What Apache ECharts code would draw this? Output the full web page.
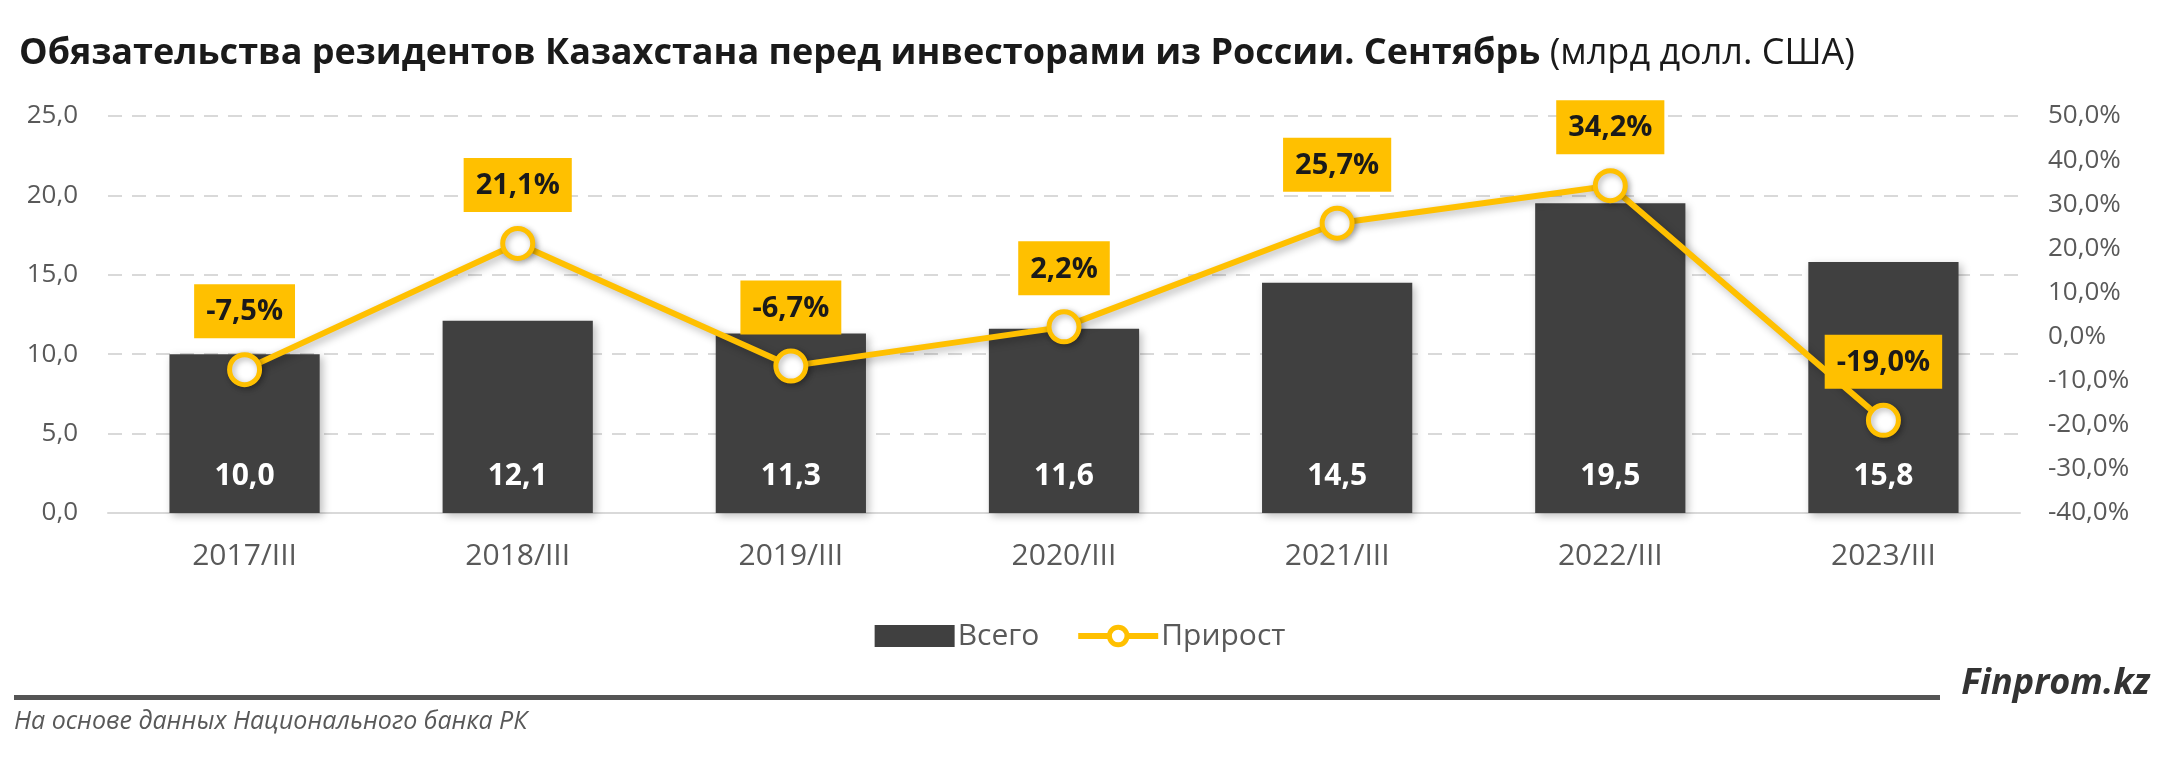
<!DOCTYPE html>
<html><head><meta charset="utf-8">
<script src="https://cdn.jsdelivr.net/npm/echarts@6/dist/echarts.min.js"></script>
<style>html,body{margin:0;padding:0;background:#fff}#c{width:2160px;height:762px}</style>
</head><body><div id="c"></div>
<script>
const categories = ['2017/III','2018/III','2019/III','2020/III','2021/III','2022/III','2023/III'];
const totalValues = [10.0, 12.1, 11.3, 11.6, 14.5, 19.5, 15.8];
const growthValues = [-7.5, 21.1, -6.7, 2.2, 25.7, 34.2, -19.0];
const leftTicks = {min: 0, max: 25, interval: 5};
const rightTicks = {min: -40, max: 50, interval: 10};
const titleBold = 'Обязательства резидентов Казахстана перед инвесторами из России. Сентябрь';
const titleNormal = ' (млрд долл. США)';
const sourceText = 'На основе данных Национального банка РК';
const brandText = 'Finprom.kz';

const FONT = 'Open Sans';
const fmt1 = v => v.toFixed(1).replace('.', ',');
const chart = echarts.init(document.getElementById('c'));
chart.setOption({
  backgroundColor: '#fff',
  textStyle: {fontFamily: FONT},
  title: {
    left: 14, top: 31,
    text: '{b|' + titleBold + '}{n|' + titleNormal + '}',
    textStyle: {rich: {
      b: {fontFamily: FONT, fontWeight: 'bold', fontSize: 36, color: '#1a1a1a'},
      n: {fontFamily: FONT, fontWeight: 'normal', fontSize: 36, color: '#1a1a1a'}
    }}
  },
  legend: {
    bottom: 106, left: 'center', itemGap: 36,
    textStyle: {fontSize: 30, color: '#595959', padding: [0, 0, 0, -2]},
    data: [
      {name: 'Всего', icon: 'rect'},
      {name: 'Прирост', lineStyle: {width: 6, color: '#FFC000'}, itemStyle: {color: '#fff', borderColor: '#FFC000', borderWidth: 5}}
    ],
    itemWidth: 80, itemHeight: 22
  },
  grid: {left: 108, right: 140, top: 116, bottom: 249},
  xAxis: {
    type: 'category', data: categories,
    axisTick: {show: false},
    axisLine: {lineStyle: {color: '#d9d9d9', width: 2}},
    axisLabel: {fontSize: 30, color: '#595959', margin: 28}
  },
  yAxis: [
    {type: 'value', min: leftTicks.min, max: leftTicks.max, interval: leftTicks.interval,
     axisLabel: {fontSize: 26, color: '#595959', margin: 30, formatter: v => fmt1(v)},
     splitLine: {lineStyle: {color: '#d9d9d9', type: [14, 10], width: 2}}},
    {type: 'value', min: rightTicks.min, max: rightTicks.max, interval: rightTicks.interval,
     axisLabel: {fontSize: 26, color: '#595959', margin: 28, formatter: v => fmt1(v) + '%'},
     splitLine: {show: false}}
  ],
  series: [
    {name: 'Всего', type: 'bar', data: totalValues, barWidth: '55%',
     itemStyle: {color: '#404040', shadowColor: 'rgba(0,0,0,0.25)', shadowBlur: 8, shadowOffsetX: 3, shadowOffsetY: 3},
     label: {show: true, position: 'insideBottom', distance: 22, color: '#fff', fontWeight: 'bold', fontSize: 30,
       formatter: p => fmt1(p.value)}},
    {name: 'Прирост', type: 'line', yAxisIndex: 1, data: growthValues,
     symbol: 'circle', symbolSize: 30,
     lineStyle: {color: '#FFC000', width: 6, shadowColor: 'rgba(0,0,0,0.3)', shadowBlur: 8, shadowOffsetX: 3, shadowOffsetY: 3},
     itemStyle: {color: '#fff', borderColor: '#FFC000', borderWidth: 5, shadowColor: 'rgba(0,0,0,0.3)', shadowBlur: 6, shadowOffsetX: 2, shadowOffsetY: 2},
     label: {show: true, position: 'top', distance: 14, backgroundColor: '#FFC000', color: '#1a1a1a',
       fontWeight: 'bold', fontSize: 29, padding: [11, 12, 9, 12], lineHeight: 34,
       formatter: p => fmt1(p.value) + '%'},
     z: 5}
  ],
  graphic: [
    {type: 'rect', left: 14, top: 695, shape: {width: 1926, height: 5}, style: {fill: '#555'}},
    {type: 'text', right: 10, top: 666, style: {text: brandText, font: 'italic bold 36px "Open Sans"', fill: '#333'}},
    {type: 'text', left: 14, top: 709, style: {text: sourceText, font: 'italic 25px "Open Sans"', fill: '#595959'}}
  ]
});
</script></body></html>
